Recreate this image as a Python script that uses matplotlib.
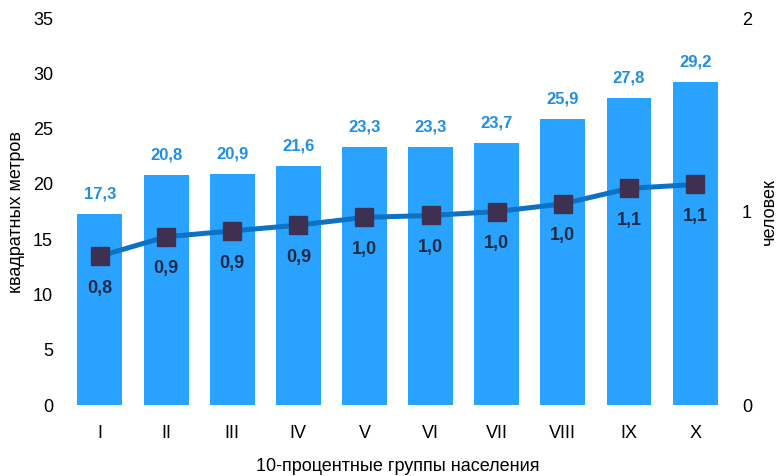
import matplotlib.pyplot as plt

plt.rcParams['font.family'] = ['Liberation Sans', 'DejaVu Sans']

groups = ['I', 'II', 'III', 'IV', 'V', 'VI', 'VII', 'VIII', 'IX', 'X']
area = [17.3, 20.8, 20.9, 21.6, 23.3, 23.3, 23.7, 25.9, 27.8, 29.2]
persons = [0.77, 0.87, 0.90, 0.93, 0.97, 0.98, 1.00, 1.04, 1.12, 1.14]

fig = plt.figure(figsize=(7.78, 4.76), dpi=100)
ax = fig.add_axes([0.086, 0.149, 0.85, 0.813])
x = range(len(groups))
ax.bar(x, area, width=0.68, color='#29a3ff', zorder=1)
for i, v in enumerate(area):
    ax.annotate(f'{v:.1f}'.replace('.', ','), (i, v), xytext=(0, 9),
                textcoords='offset points', ha='center', va='bottom',
                fontsize=12, fontweight='bold', color='#1f8fe6')
ax.set_ylim(0, 35)
ax.set_xlim(-0.5, 9.5)
ax.set_yticks(range(0, 36, 5))
ax.set_xticks(list(x))
ax.set_xticklabels(groups)
ax.tick_params(length=0, labelsize=13, pad=10)
ax.tick_params(axis='x', pad=14)
ax.set_ylabel('квадратных метров', fontsize=13, labelpad=6)
ax.set_xlabel('10-процентные группы населения', fontsize=13, labelpad=12)
for s in ax.spines.values():
    s.set_visible(False)

ax2 = ax.twinx()
ax2.plot(list(x), persons, color='#0b72c4', lw=3.6, marker='s', ms=13,
         mfc='#3e3050', mec='#3e3050', zorder=3)
for i, v in enumerate(persons):
    ax2.annotate(f'{v:.1f}'.replace('.', ','), (i, v), xytext=(0, -17),
                 textcoords='offset points', ha='center', va='top',
                 fontsize=13, fontweight='bold', color='#1f2a44')
ax2.set_ylim(0, 2)
ax2.set_yticks([0, 1, 2])
ax2.tick_params(length=0, labelsize=13, pad=10)
ax2.set_ylabel('человек', fontsize=13, labelpad=6)
for s in ax2.spines.values():
    s.set_visible(False)

fig.savefig('out.png', dpi=100)
